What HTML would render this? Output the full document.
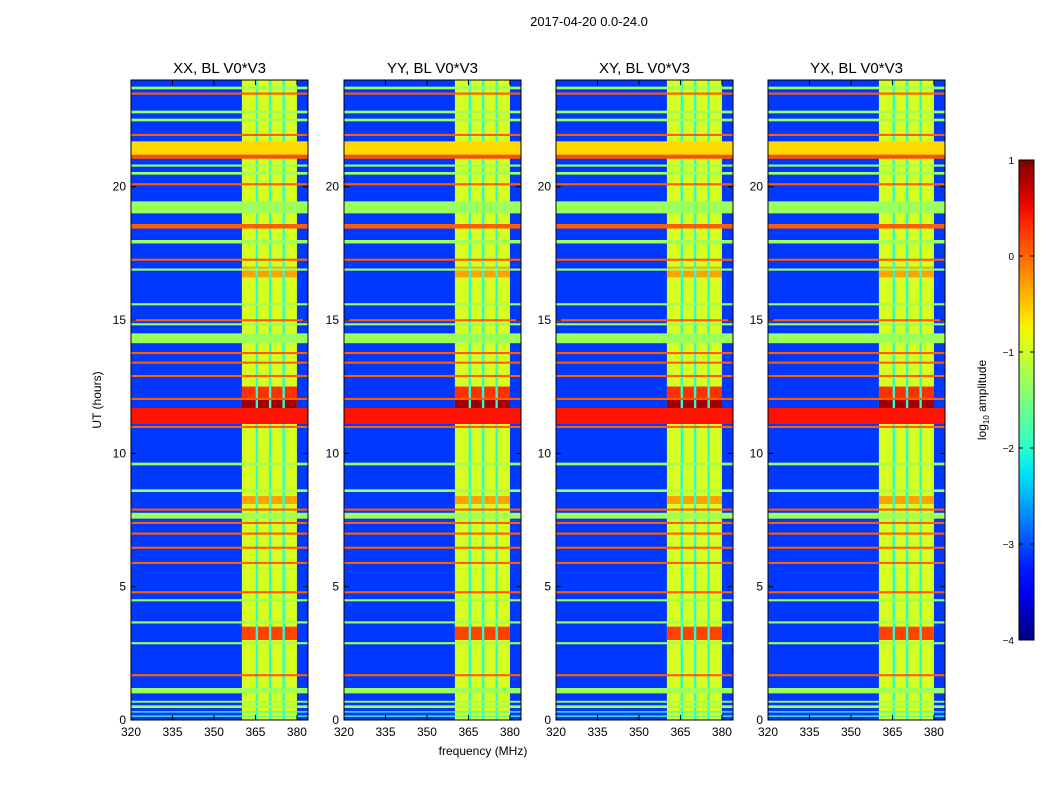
<!DOCTYPE html>
<html><head><meta charset="utf-8"><style>
body{margin:0;background:#fff;font-family:"Liberation Sans",sans-serif}
svg text{font-family:"Liberation Sans",sans-serif}
</style></head><body>
<svg id="fig" width="1050" height="800" xmlns="http://www.w3.org/2000/svg">
<rect width="1050" height="800" fill="#fff"/>
<text x="589" y="26" font-size="13" text-anchor="middle">2017-04-20 0.0-24.0</text>
<text x="483" y="755" font-size="12" text-anchor="middle">frequency (MHz)</text>
<text transform="translate(101,400) rotate(-90)" font-size="12" text-anchor="middle">UT (hours)</text>
<defs><linearGradient id="jetg" x1="0" y1="1" x2="0" y2="0"></linearGradient></defs>
<g id="panels"></g>
<g id="cbar"></g>
</svg>
<script>
// ---- data (log10 amplitude levels) ----
const panelTitles = ["XX, BL V0*V3","YY, BL V0*V3","XY, BL V0*V3","YX, BL V0*V3"];
const xTicks = [320,335,350,365,380];
const yTicks = [0,5,10,15,20];
const cbTicks = [1,0,-1,-2,-3,-4];
const backgroundLevel = -3.1;
// horizontal RFI stripes: start hour, end hour, level
const stripeStart = [23.65,23.45,22.75,22.45,21.9,21.05,21.05,20.75,20.45,20.05,19.0,18.43,17.87,17.22,16.85,15.55,14.95,14.8,14.13,13.72,13.36,12.86,12.0,11.1,10.95,9.55,8.55,7.85,7.55,7.35,6.95,6.42,5.85,4.75,4.45,3.62,2.84,1.64,1.0,0.65,0.45,0.28,0.12];
const stripeEnd   = [23.75,23.53,22.85,22.55,21.98,21.7,21.2,20.83,20.55,20.13,19.45,18.6,18.0,17.3,16.93,15.63,15.03,14.88,14.5,13.8,13.44,12.94,12.08,11.7,11.03,9.65,8.65,7.93,7.77,7.43,7.03,6.5,5.93,4.83,4.53,3.7,2.92,1.72,1.2,0.72,0.55,0.33,0.17];
const stripeLevel = [-1.3,0.05,-1.3,-1.3,0.05,-0.6,0.15,-1.3,-1.3,0.05,-1.3,0.05,-1.3,0.05,-1.3,-1.3,0.05,-1.3,-1.3,0.05,0.05,0.05,0.05,0.45,0.05,-1.3,-1.3,0.05,-1.3,0.05,0.05,0.05,0.05,0.05,-1.3,-1.3,-1.3,0.05,-1.3,-1.3,-1.3,-1.8,-1.8];
// frequency bands (MHz)
const bandStart = [360.1];
const bandEnd   = [380.0];
const bandLevel = [-0.95];
// cyan gaps inside band
const gapFreq = [365.5,370.3,375.2];
const gapLevel = -2.0;
// hot blocks inside band: start hour, end hour, level
const hotStart = [3.0,11.1,12.0,16.6,8.1];
const hotEnd   = [3.5,12.5,12.5,17.0,8.4];
const hotLevel = [0.2,0.85,0.3,-0.3,-0.3];

function jetC(t){t=Math.max(0,Math.min(1,t));
 function pw(p){for(let i=1;i<p.length;i++){if(t<=p[i][0]){const a=p[i-1],b=p[i];return a[1]+(b[1]-a[1])*(t-a[0])/(b[0]-a[0]);}}return p[p.length-1][1];}
 const r=pw([[0,0],[0.35,0],[0.66,1],[0.89,1],[1,0.5]]),g=pw([[0,0],[0.125,0],[0.375,1],[0.64,1],[0.91,0],[1,0]]),b=pw([[0,0.5],[0.11,1],[0.34,1],[0.65,0],[1,0]]);
 return `rgb(${Math.round(r*255)},${Math.round(g*255)},${Math.round(b*255)})`;}
const col=v=>jetC((v+4)/5);
const NS="http://www.w3.org/2000/svg";
function mk(tag,attrs,parent){const e=document.createElementNS(NS,tag);for(const k in attrs)e.setAttribute(k,attrs[k]);parent.appendChild(e);return e;}

const panelX=[131,344,556,768], PW=177, PT=80, PB=720;
const fMin=320, fMax=384, hMin=0, hMax=24;
const panels=document.getElementById('panels');
panelX.forEach((x0,pi)=>{
 const g=mk('g',{},panels);
 
 
 const xs=f=>x0+(f-fMin)/(fMax-fMin)*PW;
 const ys=h=>PB-(h-hMin)/(hMax-hMin)*(PB-PT);
 const bg=mk('rect',{x:x0,y:PT,width:PW,height:PB-PT,fill:col(backgroundLevel)},g);
 
 
 bandStart.forEach((b,i)=>{const r=mk('rect',{x:xs(b),y:PT,width:xs(bandEnd[i])-xs(b),height:PB-PT,fill:col(bandLevel[i])},g);
  
  });
 hotStart.forEach((h,i)=>{const r=mk('rect',{x:xs(bandStart[0]),y:ys(hotEnd[i]),width:xs(bandEnd[0])-xs(bandStart[0]),height:ys(h)-ys(hotEnd[i]),fill:col(hotLevel[i])},g);
  
  });
 gapFreq.forEach(f=>{const r=mk('rect',{x:xs(f)-1.2,y:PT,width:2.4,height:PB-PT,fill:col(gapLevel)},g);
  
  });
 stripeStart.forEach((s,i)=>{const r=mk('rect',{x:x0,y:ys(stripeEnd[i]),width:PW,height:Math.max(1,ys(s)-ys(stripeEnd[i])),fill:col(stripeLevel[i])},g);
  
  });
 mk('rect',{x:x0,y:PT,width:PW,height:PB-PT,fill:'none',stroke:'#000','stroke-width':1},g);
 const t=mk('text',{x:x0+PW/2,y:PT-7,'font-size':15,'text-anchor':'middle'},g);t.textContent=panelTitles[pi];
 
 
 xTicks.forEach(v=>{const X=xs(v);mk('line',{x1:X,x2:X,y1:PB,y2:PB-5,stroke:'#000'},g);mk('line',{x1:X,x2:X,y1:PT,y2:PT+5,stroke:'#000'},g);
  const l=mk('text',{x:X,y:PB+16,'font-size':12,'text-anchor':'middle'},g);l.textContent=v;
  
  });
 yTicks.forEach(v=>{const Y=ys(v);mk('line',{x1:x0,x2:x0+5,y1:Y,y2:Y,stroke:'#000'},g);mk('line',{x1:x0+PW,x2:x0+PW-5,y1:Y,y2:Y,stroke:'#000'},g);
  const l=mk('text',{x:x0-5,y:Y+4,'font-size':12,'text-anchor':'end'},g);l.textContent=v;
  
  });
});
// colorbar
const grad=document.getElementById('jetg');
for(let i=0;i<=20;i++){mk('stop',{offset:(i/20),'stop-color':jetC(i/20)},grad);}
const cb=document.getElementById('cbar');
const cbT=160,cbB=640,cbX=1019,cbW=15;
mk('rect',{x:cbX,y:cbT,width:cbW,height:cbB-cbT,fill:'url(#jetg)',stroke:'#000','stroke-width':1},cb);
cbTicks.forEach(v=>{const Y=cbB-(v+4)/5*(cbB-cbT);
 mk('line',{x1:cbX,x2:cbX+4,y1:Y,y2:Y,stroke:'#000'},cb);mk('line',{x1:cbX+cbW,x2:cbX+cbW-4,y1:Y,y2:Y,stroke:'#000'},cb);
 const l=mk('text',{x:cbX-5,y:Y+4,'font-size':10,'text-anchor':'end'},cb);l.textContent=(v<0?'\u2212'+(-v):v);
 
 });
const cl=mk('text',{transform:'translate(986,400) rotate(-90)','font-size':12,'text-anchor':'middle'},cb);
cl.innerHTML='log<tspan font-size="8" dy="3">10</tspan><tspan dy="-3"> amplitude</tspan>';


</script>
</body></html>
